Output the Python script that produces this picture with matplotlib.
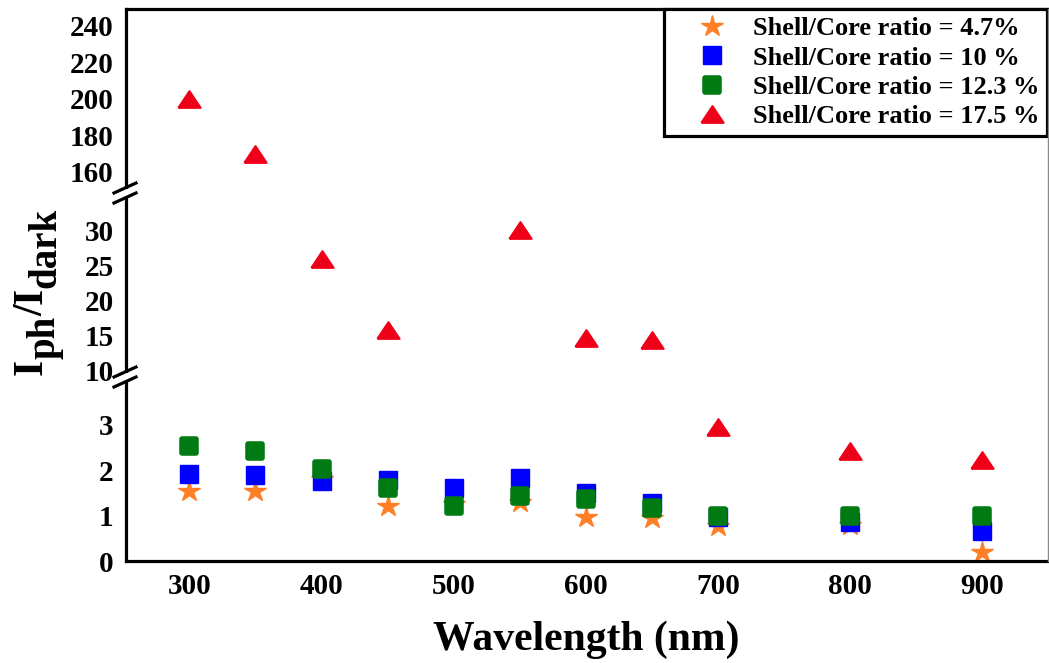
import numpy as np
import matplotlib
matplotlib.use('Agg')
import matplotlib.pyplot as plt
from matplotlib.lines import Line2D
from matplotlib.patches import Rectangle
from matplotlib.markers import MarkerStyle

plt.rcParams['font.family'] = 'Liberation Serif'
plt.rcParams['font.weight'] = 'bold'

# data
wavelength = [300, 350, 400, 450, 500, 550, 600, 650, 700, 800, 900]
ratio_4_7 = [1.55, 1.53, 1.81, 1.22, 1.25, 1.29, 0.96, 0.94, 0.78, 0.80, 0.20]
ratio_10 = [1.91, 1.89, 1.75, 1.78, 1.60, 1.82, 1.50, 1.27, 0.96, 0.85, 0.66]
ratio_12_3 = [2.54, 2.43, 2.03, 1.60, 1.22, 1.42, 1.36, 1.16, 0.98, 0.98, 0.98]
ratio_17_5 = [200, 170, 25.8, 15.7, np.nan, 30.0, 14.6, 14.3, 2.95, 2.43, 2.23]

labels = ['Shell/Core ratio = 4.7%', 'Shell/Core ratio = 10 %',
          'Shell/Core ratio = 12.3 %', 'Shell/Core ratio = 17.5 %']

tri = [(-1, -0.75), (1, -0.75), (0, 0.75), (-1, -0.75)]
styles = [
    dict(marker=MarkerStyle('*'), color='#FF7F27', ms=16, mew=1),
    dict(marker=MarkerStyle('s'), color='#0000FF', ms=12.5, mew=1),
    dict(marker=MarkerStyle('s', joinstyle='round'), color='#007A12', ms=10.5, mew=4),
    dict(marker=MarkerStyle(tri, joinstyle='round'), color='#F00018', ms=16, mew=1.5),
]
series = [ratio_4_7, ratio_10, ratio_12_3, ratio_17_5]

W, H = 1049, 663
fig = plt.figure(figsize=(W / 100, H / 100), dpi=100)

x0, x1 = 126, 1047
edges = [9, 193, 377, 561]   # pixel rows, top -> bottom


def px_axes(top, bot):
    return fig.add_axes([x0 / W, 1 - bot / H, (x1 - x0) / W, (bot - top) / H])


ax_top = px_axes(edges[0], edges[1])
ax_mid = px_axes(edges[1], edges[2])
ax_bot = px_axes(edges[2], edges[3])
axes = [ax_top, ax_mid, ax_bot]

for ax in axes:
    for y, st in zip(series, styles):
        ax.plot(wavelength, y, ls='none', marker=st['marker'], color=st['color'],
                mec=st['color'], mfc=st['color'], ms=st['ms'], mew=st['mew'])
    ax.set_xlim(252, 949)
    ax.tick_params(length=0, labelsize=21, pad=9)
    for s in ax.spines.values():
        s.set_visible(False)
    ax.spines['left'].set_visible(True)
    ax.spines['left'].set_linewidth(2.3)

ax_top.set_ylim(148.5, 249)
ax_top.set_yticks([160, 180, 200, 220, 240])
ax_top.spines['top'].set_visible(True)
ax_top.spines['top'].set_linewidth(2.3)

ax_mid.set_ylim(9, 35.3)
ax_mid.set_yticks([10, 15, 20, 25, 30])

ax_bot.set_ylim(0, 4.05)
ax_bot.set_yticks([0, 1, 2, 3])
ax_bot.spines['bottom'].set_visible(True)
ax_bot.spines['bottom'].set_linewidth(2.3)
ax_bot.set_xticks([300, 400, 500, 600, 700, 800, 900])

for ax in (ax_top, ax_mid):
    ax.set_xticks([])

# thin right border
fig.add_artist(Line2D([1048 / W, 1048 / W], [1 - 9 / H, 1 - 561 / H],
                      color='#888888', lw=1))

# axis break marks on the left spine
for yb in (edges[1], edges[2]):
    fig.add_artist(Rectangle(((x0 - 3) / W, 1 - (yb + 4) / H), 6 / W, 8 / H,
                             facecolor='white', edgecolor='none', zorder=5))
    for dy in (-5, 5):
        fig.add_artist(Line2D([(x0 - 12) / W, (x0 + 10) / W],
                              [1 - (yb + dy + 5) / H, 1 - (yb + dy - 5) / H],
                              color='black', lw=2.3, zorder=6))

handles = [Line2D([], [], ls='none', marker=st['marker'], color=st['color'],
                  mec=st['color'], mfc=st['color'], ms=st['ms'], mew=st['mew'])
           for st in styles]
leg = ax_top.legend(handles, labels, loc='upper right', borderaxespad=0,
                    fontsize=19, frameon=True, fancybox=False, framealpha=1,
                    edgecolor='black', labelspacing=0.22, handletextpad=0.05,
                    handlelength=3.0, borderpad=0.3)
leg.get_frame().set_linewidth(2.3)

# y label built piece by piece: I, ph (lowered), /, I, dark (lowered)
renderer = fig.canvas.get_renderer()
pieces = [('I', 30, 42), ('ph', 28, 55), ('/', 30, 42), ('I', 30, 42), ('dark', 28, 55)]
ypos = 375
for txt, fs, xb in pieces:
    t = fig.text(xb / W, 1 - ypos / H, txt, rotation=90, rotation_mode='anchor',
                 ha='left', va='baseline', fontsize=fs, fontweight='bold')
    bb = t.get_window_extent(renderer)
    ypos -= bb.height

fig.text(586 / W, 1 - 650 / H, 'Wavelength (nm)', ha='center', va='baseline',
         fontsize=30, fontweight='bold')

fig.savefig('out.png', dpi=100)
